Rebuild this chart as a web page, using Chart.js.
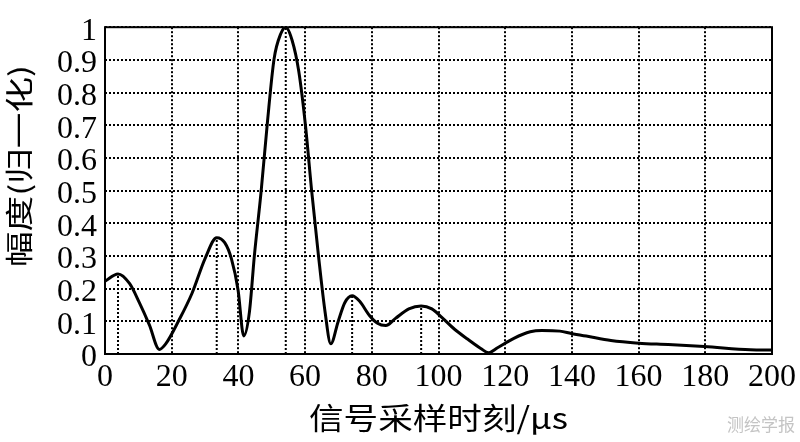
<!DOCTYPE html>
<html>
<head>
<meta charset="utf-8">
<script src="https://cdn.jsdelivr.net/npm/chart.js@4"></script>
<style>
  html, body { margin: 0; padding: 0; background: #fff; }
  #wrap { width: 800px; height: 442px; }
</style>
</head>
<body>
<div id="wrap"><canvas id="chart" width="800" height="442"></canvas></div>
<script>
// signal sampling time (us) and normalised amplitude
const timeUs = [0, 3.9, 7.4, 10.3, 13.3, 16.3, 18.2, 22.2, 26.1, 30.0,
  33.5, 35.9, 37.9, 39.9, 41.6, 43.3, 44.8, 46.8, 48.7, 50.7,
  52.7, 54.2, 56.1, 58.1, 60.1, 62.0, 64.0, 66.0, 67.7, 69.9,
  71.9, 74.1, 76.3, 79.3, 81.7, 84.2, 87.1, 91.1, 94.8, 98.0,
  100.9, 104.9, 108.8, 112.8, 115.0, 117.7, 122.6, 127.5, 131.0, 136.4,
  139.8, 144.3, 151.7, 160.0, 168.9, 179.7, 193.5, 200];
const amplitude = [0.223, 0.245, 0.215, 0.157, 0.089, 0.014, 0.031, 0.104, 0.186, 0.292,
  0.356, 0.341, 0.292, 0.196, 0.055, 0.128, 0.302, 0.496, 0.709, 0.903,
  0.98, 1.0, 0.96, 0.865, 0.70, 0.496, 0.302, 0.128, 0.031, 0.099,
  0.157, 0.178, 0.162, 0.118, 0.094, 0.087, 0.109, 0.138, 0.147, 0.138,
  0.113, 0.075, 0.045, 0.016, 0.004, 0.019, 0.048, 0.068, 0.072, 0.070,
  0.063, 0.055, 0.041, 0.033, 0.029, 0.023, 0.013, 0.012];

// dotted drop lines under the local peaks
const peakTimes = [3.9, 33.5, 54.2, 74.1, 94.8];
const peakAmps = [0.245, 0.356, 1.0, 0.178, 0.147];

const xTicks = [0, 20, 40, 60, 80, 100, 120, 140, 160, 180, 200];
const yTicks = [0, 0.1, 0.2, 0.3, 0.4, 0.5, 0.6, 0.7, 0.8, 0.9, 1];

const xTitle = '信号采样时刻/μs';
const yTitle = '幅度(归一化)';
const watermark = '测绘学报';

const curve = {
  data: timeUs.map((t, i) => ({ x: t, y: amplitude[i] })),
  borderColor: '#000',
  borderWidth: 3,
  pointRadius: 0,
  cubicInterpolationMode: 'monotone',
  fill: false,
};

const stems = peakTimes.map((t, i) => ({
  data: [{ x: t, y: 0 }, { x: t, y: peakAmps[i] }],
  borderColor: '#000',
  borderWidth: 2,
  borderDash: [2, 2],
  pointRadius: 0,
  fill: false,
}));

// fit text to a given length (the original lettering is stretched)
function drawFitted(ctx, text, x, y, angle, font, targetLen) {
  ctx.save();
  ctx.font = font;
  const w = ctx.measureText(text).width;
  ctx.translate(x, y);
  ctx.rotate(angle);
  ctx.scale(targetLen / w, 1);
  ctx.textAlign = 'center';
  ctx.textBaseline = 'middle';
  ctx.fillStyle = '#000';
  ctx.fillText(text, 0, 0);
  ctx.restore();
}

const decorations = {
  id: 'decorations',
  afterDraw(chart) {
    const { ctx, chartArea: a } = chart;
    ctx.save();
    ctx.strokeStyle = '#000';
    ctx.lineWidth = 2;
    ctx.strokeRect(a.left, a.top, a.right - a.left, a.bottom - a.top);
    ctx.restore();

    drawFitted(ctx, xTitle, (a.left + a.right) / 2, 418, 0,
      '30px "Noto Sans CJK SC"', 259);
    drawFitted(ctx, yTitle, 19, 166, -Math.PI / 2,
      '28px "Noto Sans CJK SC"', 202);

    ctx.save();
    ctx.font = '17px "Noto Sans CJK SC"';
    ctx.fillStyle = '#c4c4c4';
    ctx.textAlign = 'right';
    ctx.textBaseline = 'middle';
    ctx.fillText(watermark, 795, 425);
    ctx.restore();
  }
};

new Chart(document.getElementById('chart'), {
  type: 'line',
  data: { datasets: [curve, ...stems] },
  options: {
    responsive: false,
    animation: false,
    layout: { padding: { top: 10, right: 0, left: 0, bottom: 0 } },
    plugins: { legend: { display: false }, tooltip: { enabled: false } },
    scales: {
      x: {
        type: 'linear',
        min: 0,
        max: 200,
        afterBuildTicks: (s) => { s.ticks = xTicks.map(v => ({ value: v })); },
        afterFit: (s) => { s.height = 88; },
        grid: { color: '#000', lineWidth: 2, drawTicks: false },
        border: { display: false, dash: [2, 2] },
        ticks: {
          color: '#000',
          padding: 4,
          maxRotation: 0,
          autoSkip: false,
          font: { family: '"Liberation Serif"', size: 32 },
        },
      },
      y: {
        min: 0,
        max: 1,
        afterBuildTicks: (s) => { s.ticks = yTicks.map(v => ({ value: v })); },
        afterFit: (s) => { s.width = 105; },
        grid: { color: '#000', lineWidth: 2, drawTicks: false },
        border: { display: false, dash: [2, 2] },
        ticks: {
          color: '#000',
          padding: 8,
          labelOffset: 4,
          autoSkip: false,
          font: { family: '"Liberation Serif"', size: 32 },
          callback: (v) => String(Math.round(v * 10) / 10),
        },
      },
    },
  },
  plugins: [decorations],
});
</script>
</body>
</html>
